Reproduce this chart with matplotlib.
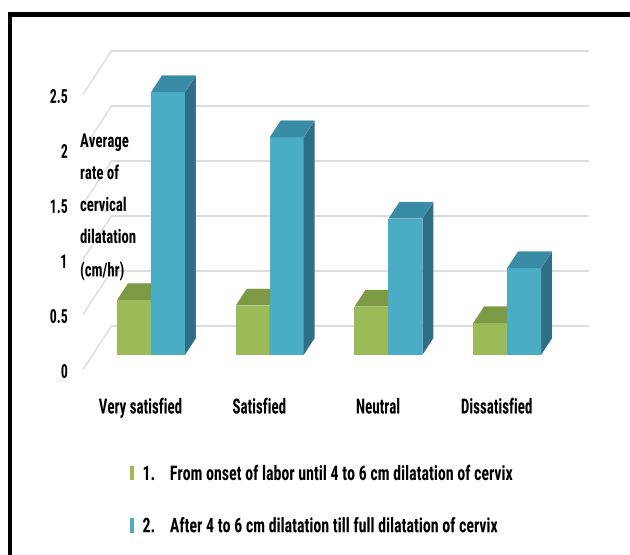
import numpy as np
import matplotlib
matplotlib.use('Agg')
import matplotlib.pyplot as plt
from matplotlib import font_manager
from matplotlib.patches import Polygon, Patch, Rectangle
from matplotlib.patheffects import AbstractPathEffect
from matplotlib.transforms import Affine2D

# data
categories = ['Very satisfied', 'Satisfied', 'Neutral', 'Dissatisfied']
stage1 = [0.50, 0.45, 0.44, 0.29]
stage2 = [2.39, 1.98, 1.24, 0.79]
yticks = [0, 0.5, 1, 1.5, 2, 2.5]
ytick_labels = ['0', '0.5', '1', '1.5', '2', '2.5']
legend_labels = ['1.    From onset of labor until 4 to 6 cm dilatation of cervix',
                 '2.    After 4 to 6 cm dilatation till full dilatation of cervix']
ylabel = 'Average\nrate of\ncervical\ndilatation\n(cm/hr)'


def pick_font(names):
    for n in names:
        try:
            font_manager.findfont(n, fallback_to_default=False)
            return n
        except ValueError:
            pass
    return 'DejaVu Sans'


font = pick_font(['Liberation Sans Narrow', 'Roboto Condensed', 'DejaVu Sans'])
plt.rcParams['font.family'] = [font, 'DejaVu Sans']
plt.rcParams['font.weight'] = 'bold'


class Squeeze(AbstractPathEffect):
    # the source picture is squashed sideways, so narrow the glyphs a bit more
    def __init__(self, s=0.7, ha='left'):
        super().__init__()
        self.s = s
        self.ha = ha

    def draw_path(self, renderer, gc, tpath, affine, rgbFace=None):
        ext = tpath.get_extents()
        shift = 0.0
        if self.ha == 'center':
            shift = (1 - self.s) * (ext.x0 + ext.x1) / 2
        elif self.ha == 'right':
            shift = (1 - self.s) * ext.x1
        tr = Affine2D().scale(self.s, 1).translate(shift, 0) + affine
        renderer.draw_path(gc, tpath, tr, rgbFace)


# colours (Excel-like 3D columns)
green = ['#9bbb59', '#7b9a43', '#6e8a3a']   # front, top, side
blue = ['#4bacc6', '#3a8ba6', '#2f6f86']
grid_c = '#d9d9d9'

W, H = 630, 555
fig = plt.figure(figsize=(W/100, H/100), dpi=100)
ax = fig.add_axes([0, 0, 1, 1])

# front plane: px per category / per unit value
sx, sy = 118.7, 110.0
x0, y0 = 141.8, 369.0
ax.set_xlim(-x0/sx, (W-x0)/sx)
ax.set_ylim((y0-H)/sy, y0/sy)
ax.axis('off')


def off(z):
    # oblique depth shift, z in pixels
    return 0.656*z/sx, z/sy


# back wall + side wall gridlines
wx, wy = off(43.3)
xa, xb = -0.493, 3.52
for v in yticks:
    ax.plot([xa + wx, xb + wx], [v + wy, v + wy], color=grid_c, lw=1.3, zorder=1)
    ax.plot([xa, xa + wx], [v, v + wy], color=grid_c, lw=1.0, zorder=1)

# tick labels on the front plane
for v, lab in zip(yticks, ytick_labels):
    ax.text((68 - x0)/sx, v - 0.035, lab, ha='right', va='center', fontsize=13.8,
            color='black', path_effects=[Squeeze(0.72, 'right')])


def bar3d(xl, w, h, cols, zf=14.0, depth=16.7):
    fx, fy = off(zf)
    dx, dy = off(depth)
    xl = xl + fx
    xr = xl + w
    b = fy
    t = fy + h
    ax.add_patch(Polygon([(xl, b), (xr, b), (xr, t), (xl, t)], closed=True,
                         facecolor=cols[0], edgecolor='none', zorder=3))
    ax.add_patch(Polygon([(xl, t), (xr, t), (xr + dx, t + dy), (xl + dx, t + dy)],
                         closed=True, facecolor=cols[1], edgecolor='none', zorder=3))
    ax.add_patch(Polygon([(xr, b), (xr, t), (xr + dx, t + dy), (xr + dx, b + dy)],
                         closed=True, facecolor=cols[2], edgecolor='none', zorder=3))


bw = 34/sx
for i in range(len(categories)):
    bar3d(i - bw, bw, stage1[i], green)
    bar3d(i, bw, stage2[i], blue)
    ax.text(i - 0.01, (y0 - 408)/sy, categories[i], ha='center', va='center',
            fontsize=15, path_effects=[Squeeze(0.72, 'center')])

# axis title inside plot area
ax.text((80 - x0)/sx, (y0 - 133)/sy, ylabel, ha='left', va='top', fontsize=13.8,
        linespacing=2.0, path_effects=[Squeeze(0.77, 'left')])

# legend
handles = [Patch(facecolor=green[0]), Patch(facecolor=blue[0])]
leg = fig.legend(handles, legend_labels, loc='upper left',
                 bbox_to_anchor=(130/W, 1 - 465/H), frameon=False, fontsize=14.5,
                 handlelength=0.22, handleheight=0.75, handletextpad=0.4,
                 labelspacing=1.65, borderpad=0, borderaxespad=0)
for t in leg.get_texts():
    t.set_path_effects([Squeeze(0.79, 'left')])

# black frame (top and left)
fig.add_artist(Rectangle((8/W, 1 - 17/H), (W - 8)/W, 5/H, transform=fig.transFigure,
                         facecolor='black', edgecolor='none'))
fig.add_artist(Rectangle((8/W, 0), 4/W, (H - 12)/H, transform=fig.transFigure,
                         facecolor='black', edgecolor='none'))

plt.savefig('out.png', dpi=100)
